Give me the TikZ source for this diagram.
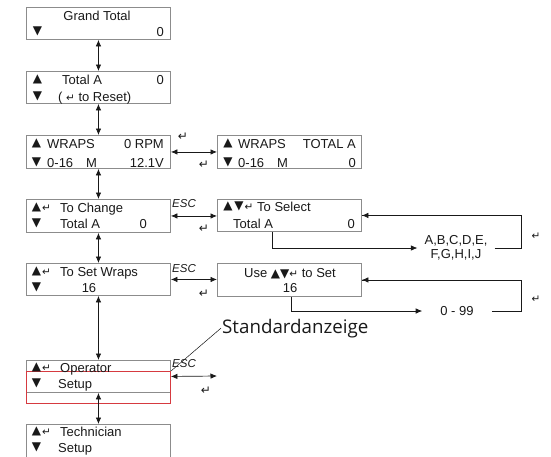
\documentclass[tikz,border=0pt]{standalone}
\usepackage{fontspec}
\setmainfont{Liberation Sans}
\newfontfamily\sy{DejaVu Sans}
\newfontfamily\stdfont{Open Sans}
\usetikzlibrary{arrows.meta}
\definecolor{boxgray}{RGB}{140,140,140}
\definecolor{inkc}{RGB}{25,25,25}
\definecolor{redbox}{RGB}{214,58,64}
\newcommand\fs{\fontsize{13}{14}\selectfont}
\newcommand\tri[1]{{\sy\fontsize{12}{12}\selectfont #1}}
\newcommand\ret{{\sy\fontsize{10.5}{10}\selectfont ↵}}
\newcommand\bigret{{\sy\fontsize{12}{12}\selectfont ↵}}
\begin{document}
\begin{tikzpicture}[x=1pt,y=-1pt,
  panel/.style={draw=boxgray, line width=0.9pt, anchor=north west, inner sep=0pt, minimum width=144pt, minimum height=32pt},
  lab/.style={inner sep=0pt, font=\fs, text=inkc},
  esc/.style={inner sep=0pt, font=\fontsize{11.5}{12}\selectfont\itshape, text=inkc},
  dbl/.style={draw=inkc, line width=0.7pt, {Latex[length=6.5pt,width=5.5pt]}-{Latex[length=6.5pt,width=5.5pt]}},
  arr/.style={draw=inkc, line width=0.7pt, -{Latex[length=6.5pt,width=5.5pt]}},
  plain/.style={draw=inkc, line width=0.6pt}]
\useasboundingbox (0,0) rectangle (551,456);

% boxes
\node[panel] (b1) at (26,7) {};
\node[panel] (b2) at (26,71) {};
\node[panel, minimum height=33pt] (b3) at (26,135) {};
\node[panel, minimum height=33pt] (b3b) at (217,135) {};
\node[panel, minimum height=33pt] (b4) at (26,199) {};
\node[panel] (b4b) at (217,199) {};
\node[panel] (b5) at (26,263) {};
\node[panel, minimum height=33pt] (b5b) at (217,263) {};
\node[panel] (b6) at (26,360) {};
\node[panel, minimum height=40pt] (b7) at (26,424) {};
\node[panel, draw=redbox, line width=1pt] (red) at (26,371) {};

% box 1
\node[lab, anchor=base] (t1a) at (97,20) {Grand Total};
\node[lab, anchor=center] (t1b) at (37.5,31) {\tri{▼}};
\node[lab, anchor=base east] (t1c) at (164,36) {0};
% box 2
\node[lab, anchor=center] (t2a) at (37.5,79) {\tri{▲}};
\node[lab, anchor=base west] (t2b) at (62,84) {Total A};
\node[lab, anchor=base east] (t2c) at (164,84) {0};
\node[lab, anchor=center] (t2d) at (37.5,96) {\tri{▼}};
\node[lab, anchor=base west] (t2e) at (58,101) {( \ret\ to Reset)};
% box 3
\node[lab, anchor=center] (t3a) at (36.5,143) {\tri{▲}};
\node[lab, anchor=base west] (t3b) at (47,148) {WRAPS};
\node[lab, anchor=base east] (t3c) at (164,148) {0 RPM};
\node[lab, anchor=center] (t3d) at (36.5,162) {\tri{▼}};
\node[lab, anchor=base west] (t3e) at (47,167) {0-16};
\node[lab, anchor=base west] (t3f) at (86,167) {M};
\node[lab, anchor=base east] (t3g) at (164,167) {12.1V};
% box 3b
\node[lab, anchor=center] (u3a) at (228,143) {\tri{▲}};
\node[lab, anchor=base west] (u3b) at (238,148) {WRAPS};
\node[lab, anchor=base east] (u3c) at (356,148) {TOTAL A};
\node[lab, anchor=center] (u3d) at (228,162) {\tri{▼}};
\node[lab, anchor=base west] (u3e) at (238,167) {0-16};
\node[lab, anchor=base west] (u3f) at (277,167) {M};
\node[lab, anchor=base east] (u3g) at (356,167) {0};
% box 4
\node[lab, anchor=center] (t4a) at (36.5,207) {\tri{▲}};
\node[lab, anchor=base west] (t4r) at (42,211) {\ret};
\node[lab, anchor=base west] (t4b) at (60,212) {To Change};
\node[lab, anchor=center] (t4d) at (36.5,223) {\tri{▼}};
\node[lab, anchor=base west] (t4e) at (60,228) {Total A};
\node[lab, anchor=base east] (t4f) at (147,228) {0};
% box 4b
\node[lab, anchor=center] (u4a) at (228,206) {\tri{▲}};
\node[lab, anchor=center] (u4b) at (239,206) {\tri{▼}};
\node[lab, anchor=base west] (u4r) at (244.5,210.5) {\ret};
\node[lab, anchor=base west] (u4c) at (257,211) {To Select};
\node[lab, anchor=base west] (u4d) at (233,228) {Total A};
\node[lab, anchor=base east] (u4e) at (355,228) {0};
% box 5
\node[lab, anchor=center] (t5a) at (36.5,271) {\tri{▲}};
\node[lab, anchor=base west] (t5r) at (42,275) {\ret};
\node[lab, anchor=base west] (t5b) at (60,276) {To Set Wraps};
\node[lab, anchor=center] (t5d) at (36.5,287) {\tri{▼}};
\node[lab, anchor=base] (t5e) at (89,292) {16};
% box 5b
\node[lab, anchor=base] (u5a) at (290,277) {Use \tri{▲▼}\ret\ to Set};
\node[lab, anchor=base] (u5b) at (290,292) {16};
% box 6
\node[lab, anchor=center] (t6a) at (36.5,367) {\tri{▲}};
\node[lab, anchor=base west] (t6r) at (42,371) {\ret};
\node[lab, anchor=base west] (t6b) at (60,372) {Operator};
\node[lab, anchor=center] (t6d) at (36.5,383) {\tri{▼}};
\node[lab, anchor=base west] (t6e) at (58,388) {Setup};
% box 7
\node[lab, anchor=center] (t7a) at (36.5,431) {\tri{▲}};
\node[lab, anchor=base west] (t7r) at (42,435) {\ret};
\node[lab, anchor=base west] (t7b) at (60,436) {Technician};
\node[lab, anchor=center] (t7d) at (36.5,447) {\tri{▼}};
\node[lab, anchor=base west] (t7e) at (58,452) {Setup};

% vertical connectors
\draw[dbl] (b1.south) -- (b2.north);
\draw[dbl] (b2.south) -- (b3.north);
\draw[dbl] (b3.south) -- (b4.north);
\draw[dbl] (b4.south) -- (b5.north);
\draw[dbl] (b5.south) -- (b6.north);
\draw[dbl] (b6.south) -- (b7.north);

% horizontal connectors
\coordinate (c6) at (217,376);
\draw[dbl] (b3.east) -- (b3.east -| b3b.west);
\draw[dbl] (b4.east) -- (b4.east -| b4b.west);
\draw[dbl] (b5.east) -- (b5.east -| b5b.west);
\draw[dbl] (b6.east) -- (c6);

% ESC and return marks
\node[esc, anchor=base west] (e1) at (172,207) {ESC};
\node[esc, anchor=base west] (e2) at (172,272) {ESC};
\node[esc, anchor=base west] (e3) at (172,367) {ESC};
\node[lab, anchor=center] (r3a) at (183,137) {\bigret};
\node[lab, anchor=center] (r3b) at (204,165) {\bigret};
\node[lab, anchor=center] (r4) at (204,229) {\bigret};
\node[lab, anchor=center] (r5) at (204,294) {\bigret};
\node[lab, anchor=center] (r6) at (206,391) {\bigret};
\node[lab, anchor=center] (rr1) at (536,236) {\ret};
\node[lab, anchor=center] (rr2) at (536,299) {\ret};

% loops
\coordinate (rx) at (521,248);
\node[lab, align=center, inner xsep=7pt, inner ysep=0pt] (abc) at (456,248) {A,B,C,D,E,\\F,G,H,I,J};
\draw[arr] ([xshift=-17pt]b4b.south) |- (abc.west);
\draw[plain] (abc.east) -- (abc.east -| rx) |- (b4b.east);
\draw[arr] (rx |- b4b.east) -- (b4b.east);
\node[lab, inner xsep=18pt, inner ysep=0pt] (n99) at (457,311) {0 - 99};
\draw[arr] ([xshift=1.5pt]b5b.south) |- (n99.west);
\draw[plain] (n99.east) -- (n99.east -| rx) |- (b5b.east);
\draw[arr] (rx |- b5b.east) -- (b5b.east);

% Standardanzeige callout
\node[inner sep=1pt, anchor=base west, font=\stdfont\fontsize{18.75}{20}\selectfont, text=inkc] (std) at (221,333) {Standardanzeige};
\draw[plain, line width=0.5pt] (red.north east) -- (std.west);
\end{tikzpicture}
\end{document}
